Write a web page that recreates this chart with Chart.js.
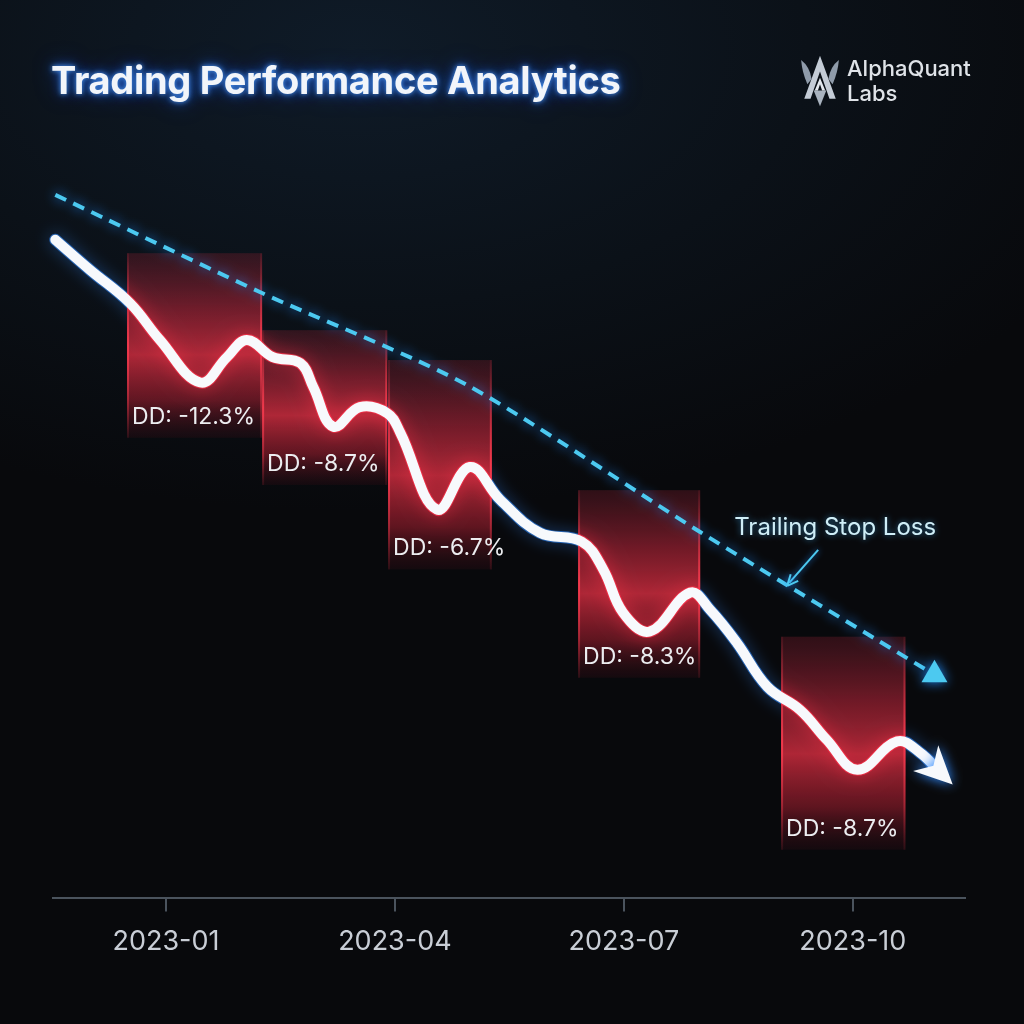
<!DOCTYPE html>
<html>
<head>
<meta charset="utf-8">
<title>Trading Performance Analytics</title>
<script src="https://cdn.jsdelivr.net/npm/chart.js@4.4.1/dist/chart.umd.min.js"></script>
<style>
  html, body { margin: 0; padding: 0; }
  body {
    width: 1024px; height: 1024px; overflow: hidden;
    background: radial-gradient(ellipse 80% 45% at 35% 5%, #0f1b28 0%, #0b1118 55%, #08090c 100%);
    font-family: Inter, "Noto Sans", sans-serif;
  }
  .wrap { position: relative; width: 1024px; height: 1024px; }
  #chart { position: absolute; left: 0; top: 0; }
  h1 {
    position: absolute; left: 51px; top: 57px; margin: 0;
    font-size: 38px; font-weight: 700; color: #f2f5fa; letter-spacing: -0.3px;
    text-shadow: 0 0 5px rgba(80,160,255,.9), 0 0 12px rgba(40,110,255,.7), 0 0 24px rgba(30,90,230,.45);
  }
  .brand { position: absolute; left: 799px; top: 52px; display: flex; align-items: center; gap: 6px; }
  .brand .name { font-size: 22px; font-weight: 500; line-height: 25px; color: #dfe3e8; }
</style>
</head>
<body>
<div class="wrap">
  <canvas id="chart" width="1024" height="1024"></canvas>
  <h1>Trading Performance Analytics</h1>
  <div class="brand">
    <svg width="42" height="58" viewBox="0 0 40 54">
      <path d="M20 3 L35 44 L29 44 L20 18 L11 44 L5 44 Z" fill="#c4ccd6"/>
      <path d="M2 7 Q10 13 12 25 L8 30 Q3 19 2 7 Z" fill="#8f9baa"/>
      <path d="M38 7 Q30 13 28 25 L32 30 Q37 19 38 7 Z" fill="#8f9baa"/>
      <path d="M14 36 L26 36 L20 51 Z" fill="#a9b3bf"/>
      <path d="M20 24 L25 36 L22 36 L20 30 L18 36 L15 36 Z" fill="#e4e9ef"/>
    </svg>
    <div class="name">AlphaQuant<br>Labs</div>
  </div>
</div>
<script>
// x values are months counted from 2023-01
const tickMonths = [0, 3, 6, 9];
const tickLabels = ['2023-01', '2023-04', '2023-07', '2023-10'];

const equityMonths = [-1.45, -1.00, -0.47, -0.08, 0.45, 0.80, 1.06, 1.40, 1.76, 1.93, 2.19, 2.54, 2.90, 3.07, 3.55, 3.98,
  4.38, 4.90, 5.45, 5.73, 5.99, 6.34, 6.87, 7.13, 7.48, 7.88, 8.31, 8.66, 9.06, 9.58, 9.88, 10.14];
const equityValues = [88.0, 84.0, 79.5, 74.6, 68.9, 72.3, 74.6, 72.3, 71.5, 68.3, 63.0, 65.6, 64.8, 62.2, 51.9, 57.6,
  53.2, 48.8, 47.6, 43.9, 38.1, 35.6, 40.8, 38.5, 34.1, 28.2, 25.1, 21.1, 17.1, 20.9, 19.4, 16.8];

const stopMonths = [-1.45, 1.23, 3.94, 7.00, 10.07];
const stopValues = [94.0, 81.0, 68.6, 48.9, 29.8];

// drawdown periods
const ddStart = [-0.51, 1.26, 2.91, 5.40, 8.06];
const ddEnd = [1.26, 2.90, 4.27, 7.00, 9.69];
const ddHigh = [86.2, 75.9, 71.9, 54.5, 34.9];
const ddLow = [61.5, 55.2, 43.9, 29.4, 6.4];
const ddLabels = ['DD: -12.3%', 'DD: -8.7%', 'DD: -6.7%', 'DD: -8.3%', 'DD: -8.7%'];

const stopNote = 'Trailing Stop Loss';
const stopNoteAt = [8.14, 41.7];

function ddRects(chart) {
  const xs = chart.scales.x, ys = chart.scales.y;
  return ddStart.map((s, i) => ({
    left: xs.getPixelForValue(s),
    right: xs.getPixelForValue(ddEnd[i]),
    top: ys.getPixelForValue(ddHigh[i]),
    bottom: ys.getPixelForValue(ddLow[i])
  }));
}

function glowStroke(ctx, line, color, width, blur) {
  ctx.beginPath();
  line.path(ctx);
  ctx.lineWidth = width;
  ctx.lineCap = 'round';
  ctx.lineJoin = 'round';
  ctx.strokeStyle = color;
  ctx.shadowColor = color;
  ctx.shadowBlur = blur;
  ctx.stroke();
}

function arrowHead(ctx, pt, size, color, glow) {
  const a = Math.atan2(pt.y - pt.cp1y, pt.x - pt.cp1x);
  ctx.save();
  ctx.translate(pt.x, pt.y);
  ctx.rotate(a);
  ctx.beginPath();
  ctx.moveTo(size * 0.5, 0);
  ctx.lineTo(-size * 0.55, -size * 0.5);
  ctx.lineTo(-size * 0.25, 0);
  ctx.lineTo(-size * 0.55, size * 0.5);
  ctx.closePath();
  ctx.fillStyle = color;
  ctx.shadowColor = glow;
  ctx.shadowBlur = 12;
  ctx.fill();
  ctx.restore();
}

const effects = {
  id: 'effects',
  beforeDatasetsDraw(chart) {
    const ctx = chart.ctx;
    ddRects(chart).forEach(r => {
      const g = ctx.createLinearGradient(0, r.top, 0, r.bottom);
      g.addColorStop(0, 'rgba(120,30,45,0.35)');
      g.addColorStop(0.3, 'rgba(185,38,58,0.58)');
      g.addColorStop(0.55, 'rgba(230,48,68,0.75)');
      g.addColorStop(0.8, 'rgba(175,32,50,0.52)');
      g.addColorStop(1, 'rgba(70,15,25,0.2)');
      ctx.fillStyle = g;
      ctx.fillRect(r.left, r.top, r.right - r.left, r.bottom - r.top);
      const e = ctx.createLinearGradient(0, r.top, 0, r.bottom);
      e.addColorStop(0, 'rgba(255,60,80,0.1)');
      e.addColorStop(0.5, 'rgba(255,60,80,0.85)');
      e.addColorStop(1, 'rgba(255,60,80,0.1)');
      ctx.strokeStyle = e;
      ctx.lineWidth = 2;
      ctx.beginPath();
      ctx.moveTo(r.left + 1, r.top); ctx.lineTo(r.left + 1, r.bottom);
      ctx.moveTo(r.right - 1, r.top); ctx.lineTo(r.right - 1, r.bottom);
      ctx.stroke();
    });
  },
  beforeDatasetDraw(chart, args) {
    const ctx = chart.ctx;
    if (args.index === 0) {
      const line = args.meta.dataset;
      const rects = ddRects(chart);
      // blue glow outside drawdown boxes
      ctx.save();
      ctx.beginPath();
      ctx.rect(0, 0, chart.width, chart.height);
      rects.forEach(r => ctx.rect(r.left, r.top, r.right - r.left, r.bottom - r.top));
      ctx.clip('evenodd');
      glowStroke(ctx, line, 'rgba(50,140,255,0.6)', 12, 16);
      ctx.restore();
      // red glow inside them
      ctx.save();
      ctx.beginPath();
      rects.forEach(r => ctx.rect(r.left, r.top, r.right - r.left, r.bottom - r.top));
      ctx.clip();
      glowStroke(ctx, line, 'rgba(255,50,75,0.7)', 12, 18);
      ctx.restore();
    }
    ctx.save();
    if (args.index === 1) {
      ctx.shadowColor = 'rgba(30,140,255,0.95)';
      ctx.shadowBlur = 12;
    }
  },
  afterDatasetDraw(chart) {
    chart.ctx.restore();
  },
  afterDatasetsDraw(chart) {
    const ctx = chart.ctx;
    const eq = chart.getDatasetMeta(0).data;
    arrowHead(ctx, eq[eq.length - 1], 36, '#f7f9fc', 'rgba(50,140,255,1)');

    // drawdown labels
    ctx.save();
    ctx.font = '400 23px Inter, "Noto Sans", sans-serif';
    ctx.fillStyle = '#ecedf0';
    ctx.textBaseline = 'middle';
    ctx.textAlign = 'left';
    ddRects(chart).forEach((r, i) => ctx.fillText(ddLabels[i], r.left + 5, r.bottom - 21));
    ctx.restore();

    // trailing stop annotation
    const tx = chart.scales.x.getPixelForValue(stopNoteAt[0]);
    const ty = chart.scales.y.getPixelForValue(stopNoteAt[1]);
    ctx.save();
    ctx.shadowColor = 'rgba(30,140,255,0.8)';
    ctx.shadowBlur = 6;
    ctx.strokeStyle = '#4cc9f0';
    ctx.lineWidth = 2;
    ctx.beginPath();
    ctx.moveTo(tx + 31, ty - 36);
    ctx.lineTo(tx + 2, ty - 3);
    ctx.stroke();
    const a = Math.atan2(33, -29);
    ctx.translate(tx, ty);
    ctx.rotate(a);
    ctx.beginPath();
    ctx.moveTo(0, 0);
    ctx.lineTo(-11, -5);
    ctx.moveTo(0, 0);
    ctx.lineTo(-11, 5);
    ctx.stroke();
    ctx.restore();
    ctx.save();
    ctx.font = '400 24px Inter, "Noto Sans", sans-serif';
    ctx.fillStyle = '#cfeef7';
    ctx.shadowColor = 'rgba(60,180,255,0.6)';
    ctx.shadowBlur = 6;
    ctx.textAlign = 'center';
    ctx.textBaseline = 'middle';
    ctx.fillText(stopNote, tx + 48, ty - 58);
    ctx.restore();
  }
};

const lastStop = stopValues.length - 1;

new Chart(document.getElementById('chart'), {
  type: 'line',
  data: {
    datasets: [
      {
        label: 'Equity',
        data: equityMonths.map((m, i) => ({ x: m, y: equityValues[i] })),
        borderColor: '#f7f9fc',
        borderWidth: 10,
        borderCapStyle: 'round',
        borderJoinStyle: 'round',
        tension: 0.4,
        pointRadius: 0,
        clip: 20
      },
      {
        label: 'Trailing Stop Loss',
        data: stopMonths.map((m, i) => ({ x: m, y: stopValues[i] })),
        borderColor: '#4cc9f0',
        borderWidth: 4,
        borderDash: [12, 8],
        tension: 0.25,
        pointStyle: 'triangle',
        pointRadius: c => (c.dataIndex === lastStop ? 15 : 0),
        pointBackgroundColor: '#4cc9f0',
        pointBorderColor: '#4cc9f0',
        pointBorderWidth: 0,
        clip: 20
      }
    ]
  },
  options: {
    responsive: false,
    devicePixelRatio: 1,
    animation: false,
    layout: { padding: { top: 150, left: 53, right: 59, bottom: 52 } },
    plugins: { legend: { display: false }, tooltip: { enabled: false } },
    scales: {
      x: {
        type: 'linear',
        min: -1.48,
        max: 10.47,
        afterBuildTicks: s => { s.ticks = tickMonths.map(v => ({ value: v })); },
        ticks: {
          color: '#c9ced6',
          font: { family: 'Inter', size: 27 },
          padding: 14,
          maxRotation: 0,
          autoSkip: false,
          callback: v => tickLabels[tickMonths.indexOf(v)] ?? ''
        },
        grid: { drawOnChartArea: false, drawTicks: true, tickLength: 14, color: '#4a535d', lineWidth: 2 },
        border: { display: true, color: '#4a535d', width: 2 }
      },
      y: { display: false, min: 0, max: 100 }
    }
  },
  plugins: [effects]
});
</script>
</body>
</html>
